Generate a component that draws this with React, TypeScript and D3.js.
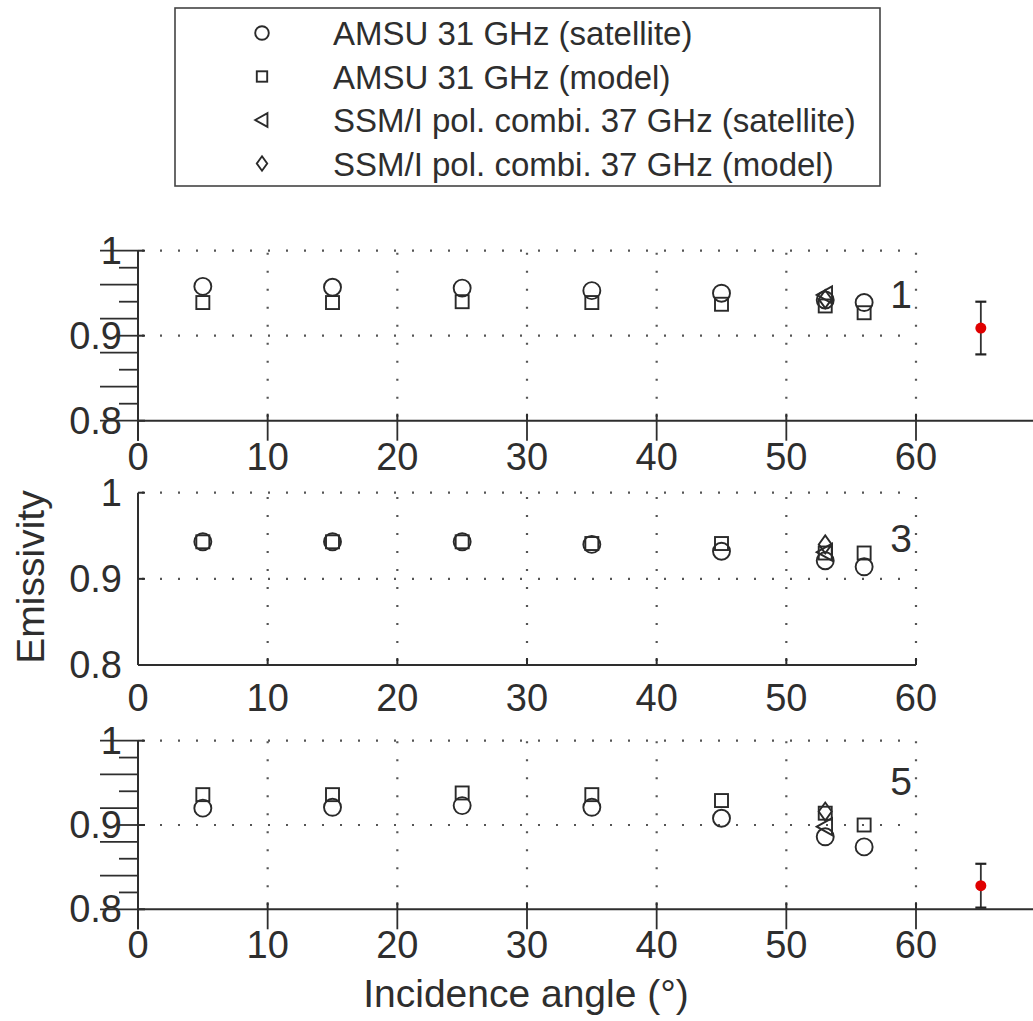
import React from "react";
import * as d3 from "d3";

const angles = [5, 15, 25, 35, 45, 53, 56];
const ssmiAngle = 53;
const panelLabels = ["1", "3", "5"];

const amsuSat1 = [0.958, 0.957, 0.956, 0.953, 0.950, 0.942, 0.939];
const amsuMod1 = [0.939, 0.939, 0.940, 0.939, 0.937, 0.935, 0.927];
const amsuSat2 = [0.943, 0.943, 0.943, 0.940, 0.932, 0.921, 0.914];
const amsuMod2 = [0.943, 0.943, 0.943, 0.941, 0.941, 0.930, 0.930];
const amsuSat3 = [0.920, 0.921, 0.923, 0.921, 0.908, 0.886, 0.874];
const amsuMod3 = [0.936, 0.936, 0.938, 0.936, 0.929, 0.914, 0.900];

const ssmiSat = [0.948, 0.931, 0.898];
const ssmiMod = [0.943, 0.940, 0.916];

// red reference points (angle, value, error) — only panels 1 and 3
const refAngle = 65;
const refValues = [0.909, null, 0.828];
const refErrors = [0.031, null, 0.026];

const xTicks = [0, 10, 20, 30, 40, 50, 60];
const yTicks = [0.8, 0.9, 1];
const yMinorTicks = [0.8, 0.82, 0.84, 0.86, 0.88, 0.9, 0.92, 0.94, 0.96, 0.98, 1.0];
const yGrid = [0.9, 1];
const xGrid = [10, 20, 30, 40, 50, 60];

const legendItems = [
  { shape: "circle", label: "AMSU 31 GHz (satellite)" },
  { shape: "square", label: "AMSU 31 GHz (model)" },
  { shape: "triangle", label: "SSM/I pol. combi. 37 GHz (satellite)" },
  { shape: "diamond", label: "SSM/I pol. combi. 37 GHz (model)" },
];

const panelsGeom = [
  { top: 250.7, bottom: 420.7, overlay: true },
  { top: 492.7, bottom: 665, overlay: false },
  { top: 740.7, bottom: 909.3, overlay: true },
];

const sats = [amsuSat1, amsuSat2, amsuSat3];
const mods = [amsuMod1, amsuMod2, amsuMod3];

const INK = "#2e2e2e";
const FONT = "'Liberation Sans', Arial, Helvetica, sans-serif";

function Marker({ shape, x, y, s = 1 }: { shape: string; x: number; y: number; s?: number }) {
  const common = { fill: "none", stroke: "#2a2a2a", strokeWidth: 1.9 };
  if (shape === "circle") return <circle cx={x} cy={y} r={8.5 * s} {...common} />;
  if (shape === "square")
    return <rect x={x - 6.5 * s} y={y - 6.5 * s} width={13 * s} height={13 * s} {...common} />;
  if (shape === "triangle") {
    const h = 8.5 * s;
    return (
      <path
        d={`M${x - h},${y} L${x + h * 0.8},${y - h} L${x + h * 0.8},${y + h} Z`}
        {...common}
      />
    );
  }
  const h = 9 * s;
  const w = 6.5 * s;
  return <path d={`M${x},${y - h} L${x + w},${y} L${x},${y + h} L${x - w},${y} Z`} {...common} />;
}

export default function App() {
  const W = 1033;
  const H = 1021;
  const x = d3.scaleLinear().domain([0, 60]).range([138, 916]);

  return (
    <svg width={W} height={H} style={{ display: "block", position: "absolute", left: 0, top: 0, background: "#fff" }} fontFamily={FONT}>
      <rect x={0} y={0} width={W} height={H} fill="#fff" />
      {/* Legend */}
      <rect x={175} y={8} width={705} height={178} fill="#fff" stroke="#444" strokeWidth={1.6} />
      {legendItems.map((it, i) => {
        const cy = 33 + i * 43.5;
        return (
          <g key={it.label}>
            <Marker shape={it.shape} x={262} y={cy} s={0.8} />
            <text x={333} y={cy + 12} fontSize={33} fill={INK}>
              {it.label}
            </text>
          </g>
        );
      })}

      {panelsGeom.map((g, p) => {
        const y = d3.scaleLinear().domain([0.8, 1]).range([g.bottom, g.top]);
        const axisRight = g.overlay ? W : x(60);
        const labelBase = g.bottom + (p === 1 ? 46 : 49);
        return (
          <g key={p}>
            {/* grid */}
            {yGrid.map((v) => (
              <line key={"hg" + v} x1={x(0) + 4} x2={x(60)} y1={y(v)} y2={y(v)} stroke="#555" strokeWidth={2.2} strokeDasharray="2 16" />
            ))}
            {xGrid.map((v) => (
              <line key={"vg" + v} x1={x(v)} x2={x(v)} y1={g.bottom - 4} y2={g.top} stroke="#555" strokeWidth={2.2} strokeDasharray="2 16" />
            ))}
            {/* axes */}
            <line x1={x(0)} x2={x(0)} y1={g.top} y2={g.bottom + (g.overlay ? 20 : 0)} stroke={INK} strokeWidth={2} />
            <line x1={x(0)} x2={axisRight} y1={g.bottom} y2={g.bottom} stroke={INK} strokeWidth={2} />
            {/* main inward ticks */}
            {yTicks.map((v) => (
              <line key={"yt" + v} x1={x(0)} x2={x(0) + 7} y1={y(v)} y2={y(v)} stroke={INK} strokeWidth={2} />
            ))}
            {xTicks.map((v) => (
              <line key={"xt" + v} x1={x(v)} x2={x(v)} y1={g.bottom} y2={g.bottom - 7} stroke={INK} strokeWidth={2} />
            ))}
            {/* overlay axis ticks */}
            {g.overlay &&
              yMinorTicks.map((v, i) => (
                <line key={"ym" + v} x1={x(0)} x2={x(0) - (i % 2 === 0 ? 38 : 19)} y1={y(v)} y2={y(v)} stroke={INK} strokeWidth={1.8} />
              ))}
            {g.overlay &&
              xTicks.map((v) => (
                <line key={"xo" + v} x1={x(v)} x2={x(v)} y1={g.bottom} y2={g.bottom + 20} stroke={INK} strokeWidth={1.8} />
              ))}
            {/* tick labels */}
            {yTicks.map((v) => (
              <text key={"yl" + v} x={122} y={y(v) + 13} textAnchor="end" fontSize={38} fill={INK}>
                {d3.format("~g")(v)}
              </text>
            ))}
            {xTicks.map((v) => (
              <text key={"xl" + v} x={x(v)} y={labelBase} textAnchor="middle" fontSize={38} fill={INK}>
                {v}
              </text>
            ))}
            {/* panel label */}
            <text x={901} y={[308, 552, 795][p]} textAnchor="middle" fontSize={39} fill={INK}>
              {panelLabels[p]}
            </text>
            {/* data */}
            {angles.map((a, i) => (
              <Marker key={"m" + a} shape="square" x={x(a)} y={y(mods[p][i])} />
            ))}
            {angles.map((a, i) => (
              <Marker key={"s" + a} shape="circle" x={x(a)} y={y(sats[p][i])} />
            ))}
            <Marker shape="triangle" x={x(ssmiAngle)} y={y(ssmiSat[p])} />
            <Marker shape="diamond" x={x(ssmiAngle)} y={y(ssmiMod[p])} />
            {/* red reference point */}
            {refValues[p] !== null && (
              <g>
                <line x1={x(refAngle)} x2={x(refAngle)} y1={y(refValues[p]! - refErrors[p]!)} y2={y(refValues[p]! + refErrors[p]!)} stroke="#333" strokeWidth={1.8} />
                <line x1={x(refAngle) - 5.5} x2={x(refAngle) + 5.5} y1={y(refValues[p]! - refErrors[p]!)} y2={y(refValues[p]! - refErrors[p]!)} stroke="#222" strokeWidth={2.2} />
                <line x1={x(refAngle) - 5.5} x2={x(refAngle) + 5.5} y1={y(refValues[p]! + refErrors[p]!)} y2={y(refValues[p]! + refErrors[p]!)} stroke="#222" strokeWidth={2.2} />
                <circle cx={x(refAngle)} cy={y(refValues[p]!)} r={5.5} fill="#e00000" />
              </g>
            )}
          </g>
        );
      })}

      {/* axis titles */}
      <text transform="translate(44,577) rotate(-90)" textAnchor="middle" fontSize={39} fill={INK}>
        Emissivity
      </text>
      <text x={526} y={1007} textAnchor="middle" fontSize={39} fill={INK}>
        Incidence angle (°)
      </text>
    </svg>
  );
}
